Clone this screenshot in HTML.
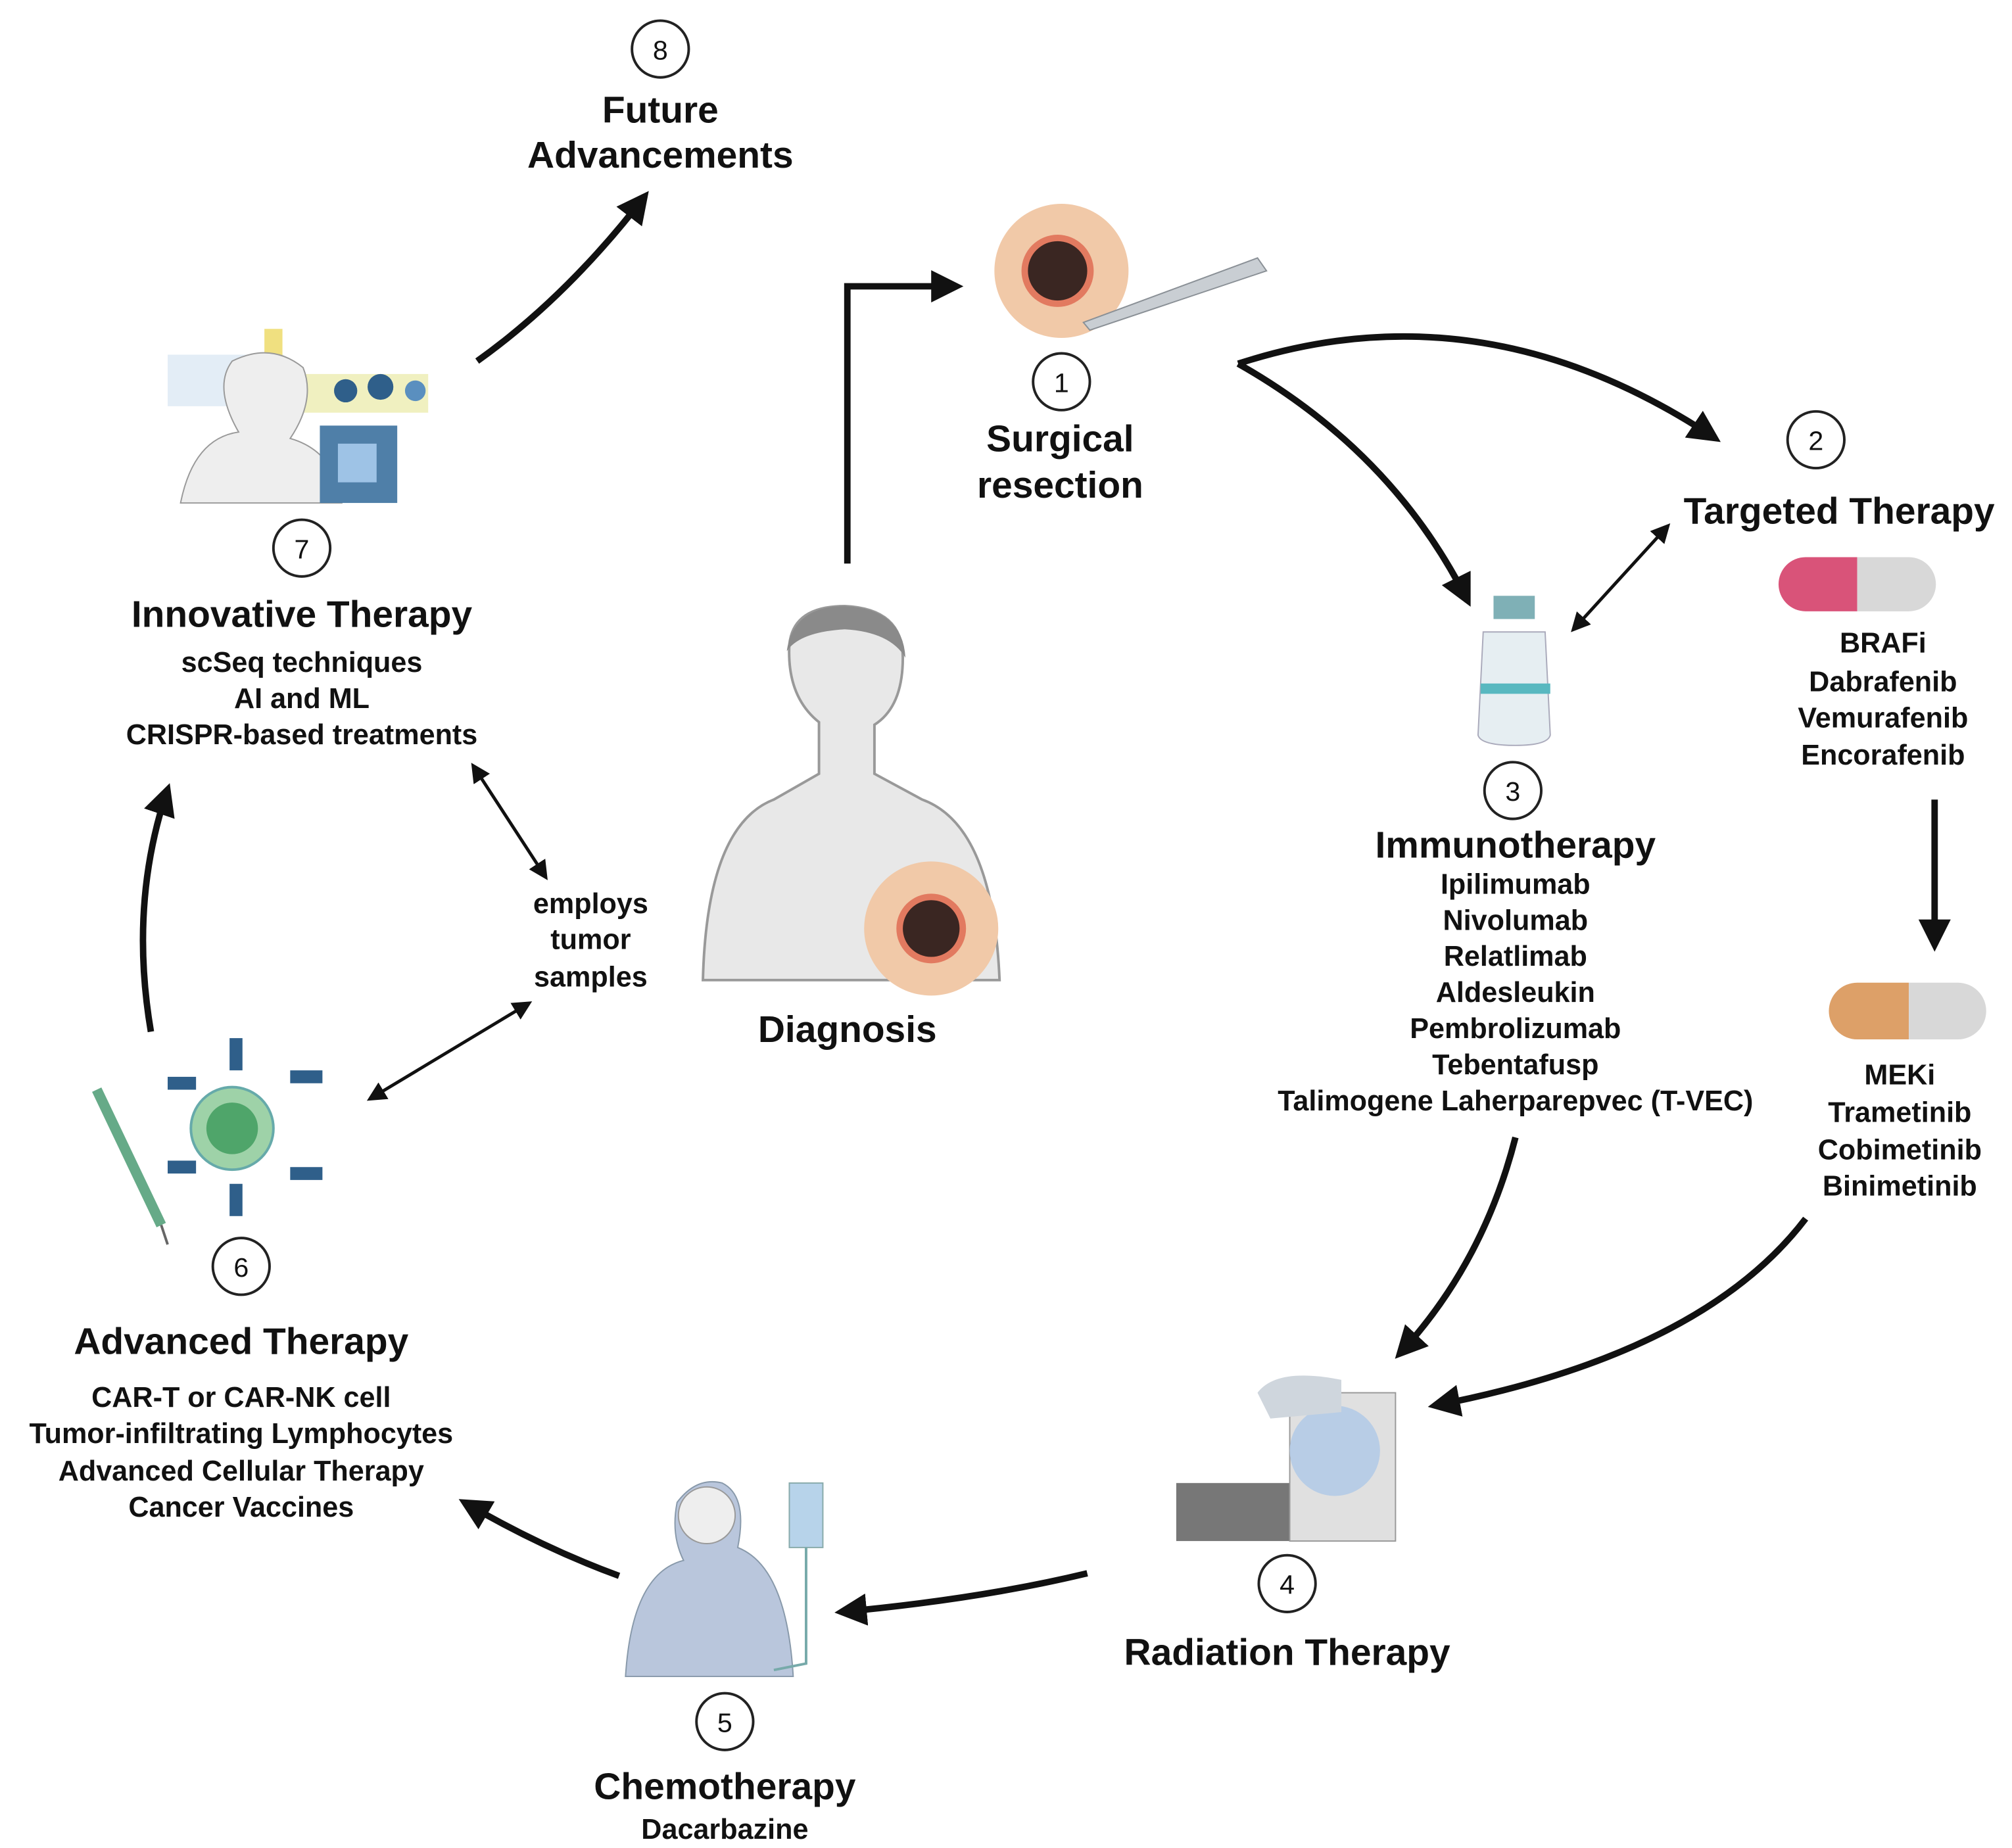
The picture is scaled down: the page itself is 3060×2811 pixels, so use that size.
<!DOCTYPE html>
<html><head><meta charset="utf-8"><style>
html,body{margin:0;padding:0;background:#fff;}
svg{display:block;}
text{font-family:"Liberation Sans",sans-serif;fill:#111;text-anchor:middle;}
.t{font-size:29px;font-weight:bold;}
.s{font-size:22px;font-weight:bold;}
.n{font-size:21px;}
</style></head><body>
<svg width="3060" height="2811" viewBox="0 0 1560 1433" xmlns="http://www.w3.org/2000/svg">
<defs>
<marker id="a" viewBox="0 0 10 10" refX="8" refY="5" markerWidth="5" markerHeight="5" orient="auto-start-reverse"><path d="M0,0 L10,5 L0,10 z" fill="#111"/></marker>
<marker id="b" viewBox="0 0 10 10" refX="8" refY="5" markerWidth="6" markerHeight="6" orient="auto-start-reverse"><path d="M0,0 L10,5 L0,10 z" fill="#111"/></marker>
</defs>
<rect width="1560" height="1433" fill="#fff"/>
<g fill="none" stroke="#111" stroke-width="5">
<path d="M370,280 Q440,230 500,152" marker-end="url(#a)"/>
<path d="M657,437 L657,222 L742,222" marker-end="url(#a)"/>
<path d="M960,282 Q1150,220 1330,340" marker-end="url(#a)"/>
<path d="M960,282 Q1080,350 1138,466" marker-end="url(#a)"/>
<path d="M1500,620 L1500,733" marker-end="url(#a)"/>
<path d="M1175,882 Q1150,980 1085,1050" marker-end="url(#a)"/>
<path d="M1400,945 Q1320,1050 1112,1090" marker-end="url(#a)"/>
<path d="M843,1220 Q760,1240 652,1250" marker-end="url(#a)"/>
<path d="M480,1222 Q420,1200 360,1165" marker-end="url(#a)"/>
<path d="M117,800 Q100,700 130,612" marker-end="url(#a)"/>
</g>
<g fill="none" stroke="#111" stroke-width="2.5">
<path d="M1220,488 L1293,408" marker-start="url(#b)" marker-end="url(#b)"/>
<path d="M367,594 L423,680" marker-start="url(#b)" marker-end="url(#b)"/>
<path d="M287,852 L410,778" marker-start="url(#b)" marker-end="url(#b)"/>
</g>
<g fill="#fff" stroke="#222" stroke-width="2">
<circle cx="512" cy="38" r="22"/><circle cx="823" cy="296" r="22"/><circle cx="1408" cy="341" r="22"/>
<circle cx="1173" cy="613" r="22"/><circle cx="998" cy="1228" r="22"/><circle cx="562" cy="1335" r="22"/>
<circle cx="187" cy="982" r="22"/><circle cx="234" cy="425" r="22"/>
</g>
<g class="n"><text x="512" y="46">8</text><text x="823" y="304">1</text><text x="1408" y="349">2</text><text x="1173" y="621">3</text><text x="998" y="1236">4</text><text x="562" y="1343">5</text><text x="187" y="990">6</text><text x="234" y="433">7</text></g>
<!-- surgical -->
<circle cx="823" cy="210" r="52" fill="#f1c9a8"/><circle cx="820" cy="210" r="28" fill="#e27a60"/><circle cx="820" cy="210" r="23" fill="#3a2622"/>
<path d="M840,250 L975,200 L982,210 L845,256 z" fill="#c9ced3" stroke="#8a9096"/>
<!-- diagnosis person -->
<path d="M545,760 Q548,640 600,620 L635,600 L635,560 Q610,540 612,500 Q615,470 655,470 Q700,472 700,510 Q700,548 678,562 L678,600 L715,620 Q770,640 775,760 z" fill="#e8e8e8" stroke="#999" stroke-width="2"/>
<path d="M610,505 Q615,470 655,470 Q700,472 702,510 Q690,490 655,488 Q620,490 610,505z" fill="#8a8a8a"/>
<circle cx="722" cy="720" r="52" fill="#f1c9a8"/><circle cx="722" cy="720" r="27" fill="#e27a60"/><circle cx="722" cy="720" r="22" fill="#3a2622"/>
<!-- innovative image -->
<rect x="130" y="275" width="90" height="40" fill="#dce8f4" opacity="0.8"/>
<rect x="232" y="290" width="100" height="30" fill="#f0f0c0"/>
<circle cx="268" cy="303" r="9" fill="#2f5f8a"/><circle cx="295" cy="300" r="10" fill="#2f5f8a"/><circle cx="322" cy="303" r="8" fill="#5a8fbf"/>
<rect x="205" y="255" width="14" height="35" fill="#f0e080"/>
<path d="M140,390 Q150,340 185,335 Q165,300 180,280 Q210,265 235,285 Q245,310 225,340 Q260,350 265,390z" fill="#eee" stroke="#999"/>
<rect x="248" y="330" width="60" height="60" fill="#4f7fa8"/><rect x="262" y="344" width="30" height="30" fill="#9ec3e6"/>
<!-- vial -->
<rect x="1158" y="462" width="32" height="18" fill="#7fb0b6"/>
<path d="M1150,490 L1198,490 L1202,570 Q1200,578 1175,578 Q1148,578 1146,570 z" fill="#e6eef2" stroke="#aab"/>
<rect x="1148" y="530" width="54" height="8" fill="#58b8c0"/>
<!-- capsules -->
<path d="M1400,432 L1440,432 L1440,474 L1400,474 A21,21 0 0 1 1400,432z" fill="#d95379"/>
<path d="M1440,432 L1480,432 A21,21 0 0 1 1480,474 L1440,474z" fill="#d8d8d8"/>
<path d="M1440,762 L1480,762 L1480,806 L1440,806 A22,22 0 0 1 1440,762z" fill="#dda068"/>
<path d="M1480,762 L1518,762 A22,22 0 0 1 1518,806 L1480,806z" fill="#d8d8d8"/>
<!-- radiation -->
<rect x="912" y="1150" width="90" height="45" fill="#777"/>
<rect x="1000" y="1080" width="82" height="115" fill="#e0e0e0" stroke="#999"/>
<circle cx="1035" cy="1125" r="35" fill="#b8cde6"/>
<path d="M975,1080 Q990,1060 1040,1070 L1040,1095 L985,1100z" fill="#cfd6dd"/>
<!-- chemo -->
<path d="M485,1300 Q490,1220 530,1210 Q520,1190 525,1165 Q540,1145 560,1150 Q580,1160 572,1200 Q610,1215 615,1300z" fill="#b9c6dc" stroke="#8899aa"/>
<circle cx="548" cy="1175" r="22" fill="#eee" stroke="#999"/>
<rect x="612" y="1150" width="26" height="50" fill="#b7d3ea" stroke="#8aa"/>
<path d="M625,1200 L625,1290 L600,1295" fill="none" stroke="#7aa" stroke-width="2"/>
<!-- cell -->
<circle cx="180" cy="875" r="32" fill="#9ed2a8" stroke="#6aa" stroke-width="2"/><circle cx="180" cy="875" r="20" fill="#4fa56a"/>
<g fill="#2f5f8a"><rect x="178" y="805" width="10" height="25"/><rect x="178" y="918" width="10" height="25"/><rect x="225" y="830" width="25" height="10"/><rect x="225" y="905" width="25" height="10"/><rect x="130" y="835" width="22" height="10"/><rect x="130" y="900" width="22" height="10"/></g>
<path d="M75,845 L125,950" stroke="#6a8" stroke-width="8"/><path d="M125,950 L130,965" stroke="#666" stroke-width="2"/>
<!-- text -->
<text class="t" x="512" y="95">Future</text><text class="t" x="512" y="130">Advancements</text>
<text class="t" x="822" y="350">Surgical</text><text class="t" x="822" y="386">resection</text>
<text class="t" x="1426" y="406">Targeted Therapy</text>
<text class="s" x="1460" y="506">BRAFi</text><text class="s" x="1460" y="536">Dabrafenib</text><text class="s" x="1460" y="564">Vemurafenib</text><text class="s" x="1460" y="593">Encorafenib</text>
<text class="t" x="1175" y="665">Immunotherapy</text>
<g class="s"><text x="1175" y="693">Ipilimumab</text><text x="1175" y="721">Nivolumab</text><text x="1175" y="749">Relatlimab</text><text x="1175" y="777">Aldesleukin</text><text x="1175" y="805">Pembrolizumab</text><text x="1175" y="833">Tebentafusp</text><text x="1175" y="861">Talimogene Laherparepvec (T-VEC)</text></g>
<text class="s" x="1473" y="841">MEKi</text><text class="s" x="1473" y="870">Trametinib</text><text class="s" x="1473" y="899">Cobimetinib</text><text class="s" x="1473" y="927">Binimetinib</text>
<text class="t" x="657" y="808">Diagnosis</text>
<text class="t" x="998" y="1291">Radiation Therapy</text>
<text class="t" x="562" y="1395">Chemotherapy</text><text class="s" x="562" y="1426">Dacarbazine</text>
<text class="t" x="187" y="1050">Advanced Therapy</text>
<g class="s"><text x="187" y="1091">CAR-T or CAR-NK cell</text><text x="187" y="1119">Tumor-infiltrating Lymphocytes</text><text x="187" y="1148">Advanced Cellular Therapy</text><text x="187" y="1176">Cancer Vaccines</text></g>
<text class="t" x="234" y="486">Innovative Therapy</text>
<g class="s"><text x="234" y="521">scSeq techniques</text><text x="234" y="549">AI and ML</text><text x="234" y="577">CRISPR-based treatments</text></g>
<g class="s"><text x="458" y="708">employs</text><text x="458" y="736">tumor</text><text x="458" y="765">samples</text></g>
</svg>
</body></html>
